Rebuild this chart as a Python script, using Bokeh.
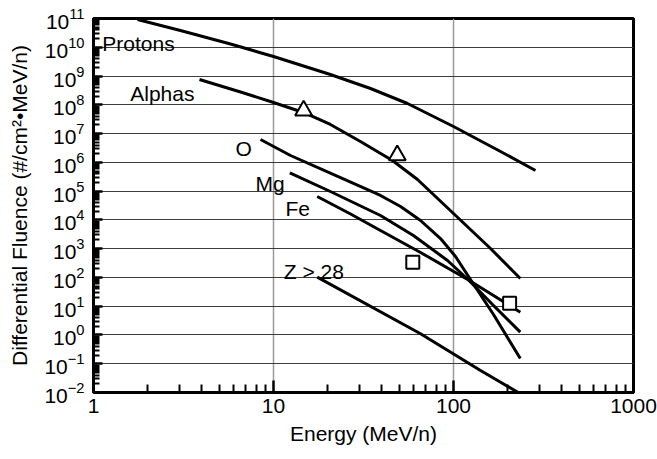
from bokeh.plotting import figure
from bokeh.models import FixedTicker, LogTickFormatter, BasicTickFormatter
from bokeh.core.properties import value
from bokeh.embed import file_html
from bokeh.resources import INLINE

FONT = "Liberation Sans"
FS = "21px"

# ---- data (energy MeV/n, differential fluence) ----
proton_e = [1.756, 3.04, 5.77, 10.0, 20.7, 34.6, 55.5, 100.0, 182.5, 285.5]
proton_f = [9.2e10, 3.83e10, 1.30e10, 4.78e9, 1.13e9, 3.69e8, 1.11e8, 1.76e7, 2.38e6, 5.2e5]

alpha_e = [3.88, 6.56, 10.0, 14.68, 20.7, 30.4, 45.8, 63.1, 100.0, 160.6, 235.0]
alpha_f = [7.59e8, 2.79e8, 1.20e8, 5.41e7, 2.07e7, 5.31e6, 1.16e6, 2.54e5, 1.67e4, 1.01e3, 92.0]

oxy_e = [8.47, 12.43, 23.56, 39.3, 50.8, 65.6, 84.7, 102.6, 121.2, 166.8, 235.0]
oxy_f = [6.22e6, 1.73e6, 2.97e5, 7.05e4, 2.92e4, 9.52e3, 2.25e3, 535.0, 108.0, 5.14, 0.152]

mg_e = [12.32, 20.7, 39.3, 59.9, 92.6, 121.2, 166.8, 235.0]
mg_f = [4.34e5, 9.7e4, 1.42e4, 2.86e3, 388.0, 81.5, 10.6, 1.25]

fe_e = [17.49, 26.8, 39.3, 65.6, 121.2, 235.0]
fe_f = [6.5e4, 1.6e4, 4.28e3, 736.0, 81.5, 6.18]

z28_e = [17.5, 65.6, 141.3, 235.0]
z28_f = [102.0, 1.1, 0.058, 0.0091]

tri_e = [14.7, 48.7]
tri_f = [6.3e7, 1.74e6]

sq_e = [59.4, 205.0]
sq_f = [340.0, 12.7]

labels = ["Protons", "Alphas", "O", "Mg", "Fe", "Z > 28"]
label_e = [1.12, 1.6, 6.15, 7.94, 11.66, 11.41]
label_f = [1.32e10, 2.4e8, 2.95e6, 1.78e5, 2.45e4, 166.0]

x_major = [1, 10, 100, 1000]
y_major = [10.0 ** k for k in range(-2, 12)]

# ---- figure ----
p = figure(width=657, height=459, x_axis_type="log", y_axis_type="log",
           x_range=(1, 1000), y_range=(1e-2, 1e11),
           output_backend="svg", toolbar_location=None,
           min_border_left=93, min_border_right=24,
           min_border_top=18, min_border_bottom=67)
p.background_fill_color = "white"
p.border_fill_color = "white"
p.outline_line_color = "black"
p.outline_line_width = 3
p.outline_line_alpha = 1.0

x_minor = [m * 10 ** k for k in range(0, 3) for m in range(2, 10)]
y_minor = [m * 10.0 ** k for k in range(-2, 11) for m in range(2, 10)]
xt = FixedTicker(ticks=x_major, minor_ticks=x_minor)
yt = FixedTicker(ticks=y_major, minor_ticks=y_minor)
p.xaxis.ticker = xt
p.yaxis.ticker = yt
p.xgrid.ticker = xt
p.ygrid.ticker = yt
p.xaxis.formatter = BasicTickFormatter()
p.yaxis.formatter = LogTickFormatter()

p.xgrid.grid_line_color = "#999999"
p.xgrid.grid_line_width = 1.5
p.ygrid.grid_line_color = "#3c3c3c"
p.ygrid.grid_line_width = 1

for ax in (p.xaxis, p.yaxis):
    ax.axis_line_width = 3
    ax.axis_line_color = "black"
    ax.major_tick_line_color = "black"
    ax.minor_tick_line_color = "black"
    ax.major_tick_out = 0
    ax.minor_tick_out = 0
    ax.major_tick_line_width = 2.5
    ax.minor_tick_line_width = 2
    ax.major_label_text_font = FONT
    ax.major_label_text_font_size = FS
    ax.major_label_text_color = "black"
    ax.axis_label_text_font = FONT
    ax.axis_label_text_font_size = FS
    ax.axis_label_text_font_style = "normal"
    ax.axis_label_text_color = "black"

p.xaxis.major_tick_in = 12
p.xaxis.minor_tick_in = 8
p.yaxis.major_tick_in = 9
p.yaxis.minor_tick_in = 6
p.xaxis.major_label_standoff = 6
p.yaxis.major_label_standoff = 9
p.xaxis.axis_label = "Energy (MeV/n)"
p.yaxis.axis_label = "Differential Fluence (#/cm²•MeV/n)"
p.xaxis.axis_label_standoff = 6
p.yaxis.axis_label_standoff = 10

for xs, ys in [(proton_e, proton_f), (alpha_e, alpha_f), (oxy_e, oxy_f),
               (mg_e, mg_f), (fe_e, fe_f), (z28_e, z28_f)]:
    p.line(xs, ys, line_width=3, line_color="black", line_join="round")

p.scatter(tri_e, tri_f, marker="triangle", size=17, fill_color="white",
          line_color="black", line_width=2)
p.scatter(sq_e, sq_f, marker="square", size=13, fill_color="white",
          line_color="black", line_width=2)

p.text(x=label_e, y=label_f, text=labels, text_font=value(FONT),
       text_font_size=FS, text_color="black",
       text_align="left", text_baseline="alphabetic")

open("out.html", "w").write(file_html(p, INLINE))
